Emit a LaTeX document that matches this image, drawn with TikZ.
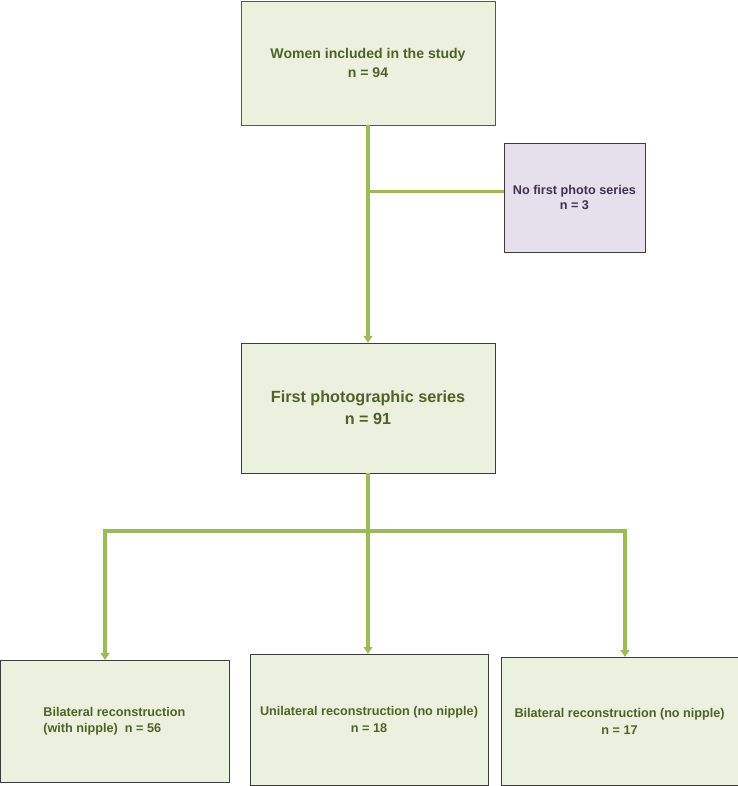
\documentclass[tikz,border=0pt]{standalone}
\usepackage{fontspec}
\setmainfont{Liberation Sans}
\usepackage{tikz}
\usetikzlibrary{positioning,arrows.meta,calc}
\definecolor{olivedark}{RGB}{79,98,40}
\definecolor{olivepale}{RGB}{235,241,222}
\definecolor{olivelink}{RGB}{155,187,89}
\definecolor{plumdark}{RGB}{64,49,81}
\definecolor{plumpale}{RGB}{229,224,236}
\definecolor{boxedge}{RGB}{60,60,60}
\tikzset{
  box/.style={draw=#1, fill=olivepale, align=center, text=olivedark, font=\fontsize{9}{12}\selectfont\bfseries, inner sep=2pt},
  box/.default={boxedge},
  side/.style={draw=boxedge, fill=plumpale, align=center, text=plumdark, font=\fontsize{9}{10.8}\selectfont\bfseries, inner sep=2pt},
  link/.style={line width=2.6pt, draw=olivelink},
  arrow/.style={link, -{Triangle[length=0.17cm, width=0.22cm]}},
  biarrow/.style={link, {Triangle[length=0.17cm, width=0.22cm]}-{Triangle[length=0.17cm, width=0.22cm]}}
}
\begin{document}
\begin{tikzpicture}
  \useasboundingbox (0,0) rectangle (18.45,-19.65);
  \node[box=olivedark, minimum width=6.35cm, minimum height=3.1cm, font=\fontsize{10}{13.5}\selectfont\bfseries] (women) at (9.2,-1.58) {Women included in the study\\ n = 94};
  \node[side, minimum width=3.525cm, minimum height=2.725cm] (nophoto) at (14.36,-4.94) {No first photo series\\ n = 3};
  \node[box, minimum width=6.35cm, minimum height=3.25cm, font=\fontsize{11.5}{15.5}\selectfont\bfseries] (first) at (9.2,-10.2) {First photographic series\\ n = 91};
  \node[box, minimum width=5.725cm, minimum height=3.05cm, align=left] (bilnip) at (2.86,-18.03) {Bilateral reconstruction\\ (with nipple)\ \ n = 56};
  \node[box, minimum width=5.95cm, minimum height=3.275cm] (uninip) at (9.225,-17.99) {Unilateral reconstruction (no nipple)\\ n = 18};
  \node[box, minimum width=5.925cm, minimum height=3.2cm] (bilno) at (15.49,-18.03) {Bilateral reconstruction (no nipple)\\ n = 17};
  \coordinate (split) at (9.2,-13.275);
  \coordinate (lft) at (2.625,-13.275);
  \coordinate (rgt) at (15.625,-13.275);
  \draw[arrow] (women.south) -- (first.north);
  \draw[link] ([yshift=0.15cm]nophoto.west -| women.south) -- ([yshift=0.15cm]nophoto.west);
  \draw[link] (first.south) -- (split);
  \draw[biarrow] (lft |- bilnip.north) |- (rgt) -- (rgt |- bilno.north);
  \draw[arrow] (split) -- (split |- uninip.north);
\end{tikzpicture}
\end{document}
